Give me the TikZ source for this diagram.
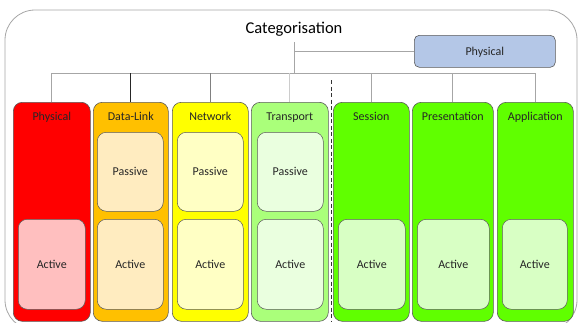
\documentclass[tikz,border=0pt]{standalone}
\usepackage{fontspec}
\setmainfont{Carlito}
\definecolor{physred}{HTML}{FF0000}
\definecolor{physin}{HTML}{FFBFBF}
\definecolor{dlorange}{HTML}{FFC000}
\definecolor{dlin}{HTML}{FFECC0}
\definecolor{netyellow}{HTML}{FFFF00}
\definecolor{netin}{HTML}{FFFFC4}
\definecolor{trgreen}{HTML}{AAFF7A}
\definecolor{trin}{HTML}{EAFFDF}
\definecolor{upgreen}{HTML}{60FF00}
\definecolor{upin}{HTML}{D8FFC4}
\definecolor{catblue}{HTML}{B4C7E7}
\definecolor{edge}{HTML}{5A5A5A}
\definecolor{wire}{HTML}{A6A6A6}
\tikzset{
  x=1pt, y=-1pt,
  frame/.style={draw=gray!70, line width=0.8pt, fill=white, rounded corners=30pt},
  layer/.style={draw=edge, line width=0.6pt, rounded corners=9pt, anchor=north west, inner sep=0pt},
  inbox/.style={draw=edge, line width=0.5pt, rounded corners=9pt, anchor=north west, inner sep=0pt},
  lbl/.style={font=\fontsize{12}{14}\selectfont, text=black!85, inner sep=0pt,
              text height=8.2pt, text depth=0pt},
  wirel/.style={draw=wire, line width=0.7pt},
}
\begin{document}
\begin{tikzpicture}
\useasboundingbox (0,0) rectangle (578,322);
\begin{scope}
\clip (0,0) rectangle (578,322);
\draw[frame] (5,10) rectangle (577,330);
\end{scope}

% title and the category box
\node[font=\fontsize{16.5}{19}\selectfont, inner sep=0pt] (title) at (294,29) {Categorisation};
\node[draw=edge, line width=0.6pt, fill=catblue, rounded corners=5pt, anchor=north west,
      minimum width=141pt, minimum height=32pt, inner sep=0pt] (cat) at (414,35) {};
\node[lbl] (catlbl) at (cat.center) {Physical};

% layer columns
\newcommand\layercol[5]{%
  \node[layer, fill=#4, minimum width=#3pt, minimum height=219pt] (#1) at (#2,102) {};
  \node[lbl] (#1lbl) at ([yshift=-14pt]#1.north) {#5};
}
\layercol{phys}{13}{77}{physred}{Physical}
\layercol{dlink}{93}{75}{dlorange}{Data-Link}
\layercol{net}{172}{76}{netyellow}{Network}
\layercol{trans}{251}{77}{trgreen}{Transport}
\layercol{sess}{333}{76}{upgreen}{Session}
\layercol{pres}{412}{81}{upgreen}{Presentation}
\layercol{app}{497}{76}{upgreen}{Application}

% passive and active parts
\newcommand\subbox[6]{%
  \node[inbox, fill=#5, minimum width=#4pt, minimum height=#3pt] (#1) at (#2) {};
  \node[lbl] (#1lbl) at (#1.center) {#6};
}
\subbox{dlpas}{97,132}{79}{66}{dlin}{Passive}
\subbox{netpas}{177,132}{79}{66}{netin}{Passive}
\subbox{trpas}{257,132}{79}{66}{trin}{Passive}
\subbox{physact}{18,219}{90}{67}{physin}{Active}
\subbox{dlact}{97,219}{90}{66}{dlin}{Active}
\subbox{netact}{177,219}{90}{66}{netin}{Active}
\subbox{tract}{257,219}{90}{66}{trin}{Active}
\subbox{sessact}{338,219}{90}{67}{upin}{Active}
\subbox{presact}{417,219}{90}{72}{upin}{Active}
\subbox{appact}{502,219}{90}{65}{upin}{Active}

% tree wiring
\coordinate (hubtop) at (294,42);
\coordinate (hub) at (294,73);
\coordinate (bus) at (0,73);
\draw[wirel] (hubtop) -- (hub);
\draw[wirel] (hubtop |- cat.west) -- (cat.west);
\draw[wirel] (phys.north |- bus) -- (app.north |- bus);
\draw[wirel] (phys.north |- bus) -- (phys.north);
\draw[draw=black!85, line width=0.7pt] (dlink.north |- bus) -- (dlink.north);
\draw[draw=gray, line width=0.8pt] (net.north |- bus) -- (net.north);
\draw[wirel, draw=gray!40] (trans.north |- bus) -- (trans.north);
\draw[wirel] (sess.north |- bus) -- (sess.north);
\draw[wirel] (pres.north |- bus) -- (pres.north);
\draw[wirel] (app.north |- bus) -- (app.north);

% split between lower and upper layers
\coordinate (splittop) at (331,80);
\coordinate (splitbot) at (331,322);
\draw[black!80, line width=0.7pt, dash pattern=on 4pt off 2.5pt] (splittop) -- (splitbot);
\end{tikzpicture}
\end{document}
